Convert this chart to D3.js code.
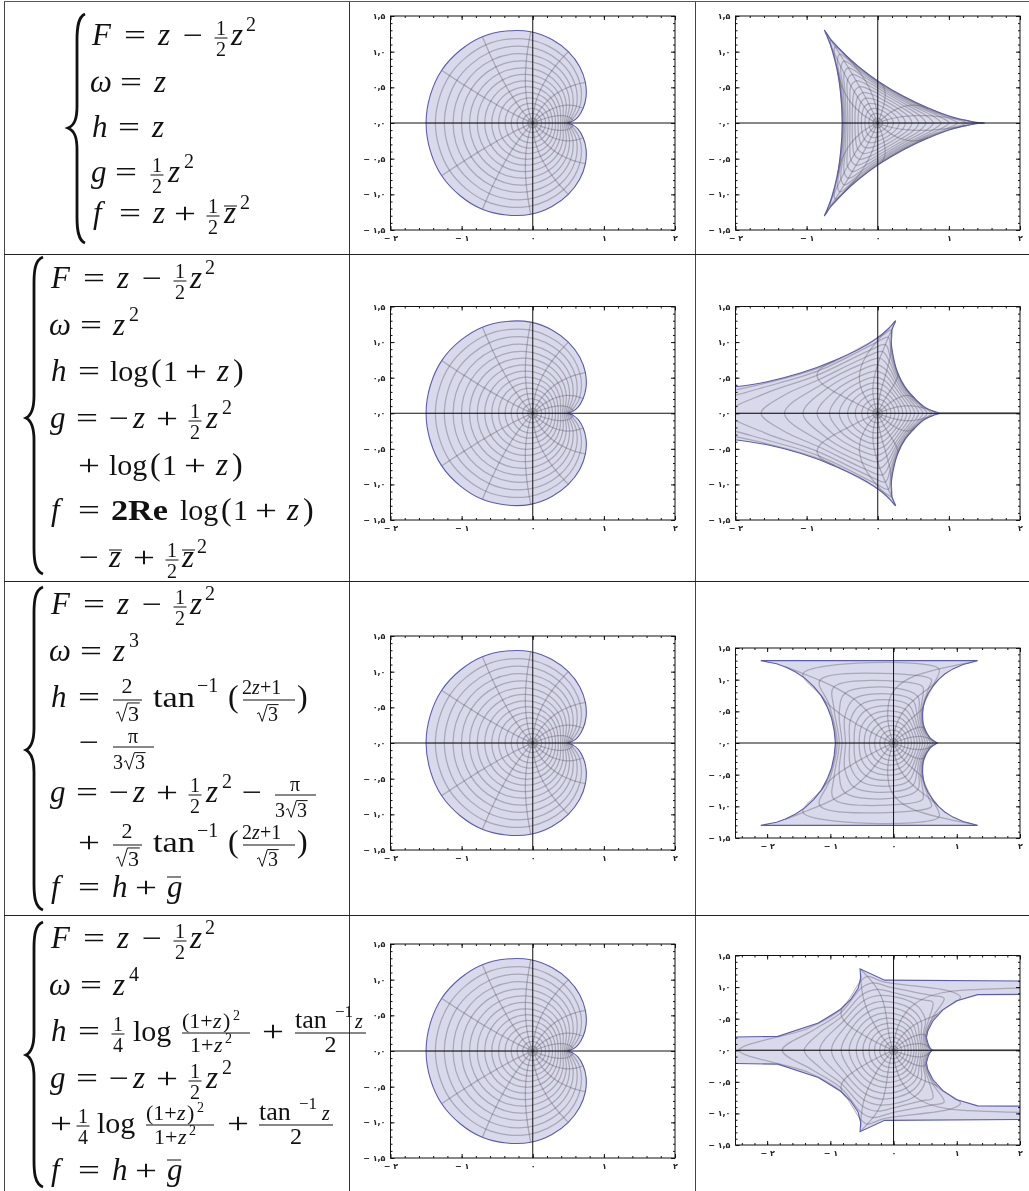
<!DOCTYPE html>
<html>
<head>
<meta charset="utf-8">
<script src="https://cdn.jsdelivr.net/npm/d3@7"></script>
<style>
  html, body { margin: 0; padding: 0; background: #fff; }
  svg { display: block; filter: blur(0.4px); }
  .m { font-family: "Liberation Serif", serif; fill: #111; }
  .i { font-style: italic; }
  .b { font-weight: bold; }
  .tick text { font-family: "DejaVu Sans", sans-serif; font-size: 8px; font-weight: bold; fill: #222; }
  .tick line { stroke: #111; }
</style>
</head>
<body>
<script>
// tick labels
const xMajor = [-2, -1, 0, 1, 2];
const xLabels = ["− ۲", "− ۱", "۰", "۱", "۲"];
const yMajor = [-1.5, -1, -0.5, 0, 0.5, 1, 1.5];
const yLabels = ["− ۱,۵", "− ۱,۰", "− ۰,۵", "۰,۰", "۰,۵", "۱,۰", "۱,۵"];

// grid heights, upper half, outer contour first, 9 spoke positions per contour
const meshY = [
  [0,.029,.207,.57,1,1.278,1.207,.737,0],
  [0,.049,.224,.554,.933,1.17,1.096,.665,0],
  [0,.066,.237,.535,.867,1.067,.989,.598,0],
  [0,.08,.246,.513,.8,.965,.886,.532,0],
  [0,.091,.249,.487,.733,.867,.787,.471,0],
  [0,.098,.25,.459,.667,.773,.694,.412,0],
  [0,.103,.244,.427,.6,.681,.604,.357,0],
  [0,.104,.235,.392,.533,.592,.519,.304,0],
  [0,.102,.221,.354,.467,.508,.439,.256,0],
  [0,.096,.203,.313,.4,.427,.363,.21,0],
  [0,.088,.18,.268,.333,.348,.292,.168,0],
  [0,.077,.153,.221,.267,.271,.225,.127,0],
  [0,.063,.121,.171,.2,.199,.161,.091,0],
  [0,.045,.085,.117,.133,.129,.103,.057,0],
  [0,.025,.045,.061,.067,.063,.049,.027,0]
];

const xCardioid = [
  [.5,.57,.707,.737,.5,-.029,-.707,-1.278,-1.5],
  [.497,.554,.66,.665,.436,-.049,-.66,-1.17,-1.369],
  [.491,.535,.613,.598,.376,-.066,-.613,-1.067,-1.243],
  [.48,.513,.566,.532,.32,-.08,-.566,-.965,-1.12],
  [.464,.487,.518,.471,.269,-.091,-.518,-.867,-1.002],
  [.445,.459,.472,.412,.222,-.098,-.472,-.773,-.889],
  [.42,.427,.424,.357,.18,-.103,-.424,-.681,-.78],
  [.391,.392,.377,.304,.142,-.104,-.377,-.592,-.675],
  [.358,.354,.33,.256,.109,-.102,-.33,-.508,-.576],
  [.32,.313,.283,.21,.08,-.096,-.283,-.427,-.48],
  [.277,.268,.236,.168,.056,-.088,-.236,-.348,-.389],
  [.231,.221,.189,.127,.036,-.077,-.189,-.271,-.303],
  [.18,.171,.141,.091,.02,-.063,-.141,-.199,-.22],
  [.124,.117,.094,.057,.009,-.045,-.094,-.129,-.142],
  [.065,.061,.047,.027,.002,-.025,-.047,-.063,-.069]
];

const xDeltoid = [
  [1.5,1.278,.707,.029,-.5,-.737,-.707,-.57,-.5],
  [1.369,1.17,.66,.049,-.436,-.665,-.66,-.554,-.497],
  [1.243,1.067,.613,.066,-.376,-.598,-.613,-.535,-.491],
  [1.12,.965,.566,.08,-.32,-.532,-.566,-.513,-.48],
  [1.002,.867,.518,.091,-.269,-.471,-.518,-.487,-.464],
  [.889,.773,.472,.098,-.222,-.412,-.472,-.459,-.445],
  [.78,.681,.424,.103,-.18,-.357,-.424,-.427,-.42],
  [.675,.592,.377,.104,-.142,-.304,-.377,-.392,-.391],
  [.576,.508,.33,.102,-.109,-.256,-.33,-.354,-.358],
  [.48,.427,.283,.096,-.08,-.21,-.283,-.313,-.32],
  [.389,.348,.236,.088,-.056,-.168,-.236,-.268,-.277],
  [.303,.271,.189,.077,-.036,-.127,-.189,-.221,-.231],
  [.22,.199,.141,.063,-.02,-.091,-.141,-.171,-.18],
  [.142,.129,.094,.045,-.009,-.057,-.094,-.117,-.124],
  [.069,.063,.047,.025,-.002,-.027,-.047,-.061,-.065]
];

const xLog = [
  [.886,.778,.521,.28,.193,.239,.173,-.606,-4],
  [.821,.726,.5,.285,.19,.194,.064,-.754,-4.15],
  [.757,.675,.478,.284,.184,.149,-.029,-.83,-2.78],
  [.696,.624,.453,.28,.175,.107,-.109,-.855,-2.1],
  [.636,.575,.428,.271,.161,.067,-.173,-.831,-1.64],
  [.576,.525,.398,.258,.145,.029,-.219,-.778,-1.31],
  [.52,.477,.368,.242,.127,-.002,-.245,-.701,-1.05],
  [.464,.427,.335,.222,.108,-.028,-.258,-.615,-.853],
  [.408,.378,.3,.198,.088,-.048,-.253,-.525,-.679],
  [.353,.328,.263,.173,.068,-.062,-.238,-.438,-.542],
  [.298,.278,.223,.144,.049,-.068,-.21,-.355,-.423],
  [.241,.226,.181,.116,.033,-.066,-.176,-.277,-.317],
  [.185,.173,.139,.085,.019,-.057,-.137,-.201,-.226],
  [.127,.117,.094,.056,.009,-.043,-.093,-.13,-.144],
  [.066,.061,.047,.026,.002,-.025,-.047,-.062,-.068]
];

const xAtan = [
  [.709,.639,.502,.472,.709,1.238,-1.711,-1.14,-.918],
  [.666,.606,.492,.465,.637,.716,-1.431,-1.085,-.913],
  [.623,.574,.477,.45,.556,.357,-1.166,-1.016,-.891],
  [.582,.541,.46,.43,.47,.153,-.943,-.941,-.859],
  [.542,.507,.439,.402,.386,.039,-.767,-.86,-.816],
  [.498,.472,.412,.369,.309,-.029,-.628,-.772,-.76],
  [.459,.435,.382,.33,.239,-.067,-.521,-.684,-.695],
  [.417,.398,.35,.291,.181,-.083,-.433,-.596,-.623],
  [.374,.357,.313,.247,.134,-.091,-.36,-.509,-.544],
  [.329,.314,.273,.206,.093,-.093,-.299,-.425,-.463],
  [.283,.268,.23,.168,.062,-.088,-.242,-.348,-.383],
  [.233,.221,.186,.127,.038,-.077,-.191,-.271,-.3],
  [.18,.171,.14,.091,.021,-.063,-.142,-.199,-.219],
  [.124,.117,.094,.057,.009,-.045,-.094,-.129,-.142],
  [.065,.061,.047,.027,.002,-.025,-.047,-.063,-.069]
];

const xMixed = [
  [.632,.582,.519,.69,3,-.517,-.518,-.756,-3],
  [.6,.559,.516,.667,.894,-.415,-.517,-.815,-2.44],
  [.567,.537,.506,.622,.599,-.326,-.505,-.831,-1.761],
  [.535,.512,.489,.565,.438,-.255,-.489,-.821,-1.413],
  [.504,.486,.468,.502,.333,-.203,-.467,-.783,-1.169],
  [.47,.455,.437,.436,.255,-.167,-.437,-.727,-.982],
  [.436,.426,.405,.374,.197,-.142,-.404,-.658,-.83],
  [.401,.39,.364,.315,.15,-.124,-.365,-.581,-.704],
  [.36,.351,.32,.265,.109,-.11,-.32,-.505,-.59],
  [.323,.311,.28,.214,.08,-.1,-.28,-.425,-.485],
  [.277,.268,.236,.168,.056,-.088,-.236,-.348,-.389],
  [.231,.221,.189,.127,.036,-.077,-.189,-.271,-.303],
  [.18,.171,.141,.091,.02,-.063,-.141,-.199,-.22],
  [.124,.117,.094,.057,.009,-.045,-.094,-.129,-.142],
  [.065,.061,.047,.027,.002,-.025,-.047,-.063,-.069]
];

// extra corner points seen on some contours: [contour, after position, x, y]
const cornersLog = [[1,7,-1.9,.35],[2,7,-1.78,.313],[3,7,-1.58,.279],[4,7,-1.33,.246]];
const cornersAtan = [[2,4,.6,1],[3,4,.46,.89]];
const cornersMixed = [[1,7,-1.35,.349],[2,7,-1.28,.313],[3,7,-1.16,.279],[1,3,1.06,.84],[2,3,.8,.82],[3,3,.62,.76],[1,4,-.156,1.082],[2,4,-.04,.994],[3,4,.015,.908]];

// outer edges, upper half only
const edgeCardioid = [[.5,0],[.57,.03],[.64,.09],[.71,.21],[.75,.37],[.74,.57],[.66,.79],[.5,1],[.27,1.17],[-.03,1.28],[-.37,1.29],[-.71,1.21],[-1.02,1.02],[-1.28,.74],[-1.44,.39],[-1.5,0]];
const edgeDeltoid = [[1.5,0],[1.44,.004],[1.28,.03],[1.02,.09],[.71,.21],[.37,.37],[.03,.57],[-.27,.79],[-.5,1],[-.66,1.17],[-.75,1.3],[-.71,1.21],[-.64,1.02],[-.57,.74],[-.52,.39],[-.5,0]];
const edgeLog = [[.87,0],[.78,.03],[.65,.09],[.52,.21],[.38,.37],[.28,.57],[.22,.79],[.19,1],[.2,1.17],[.25,1.3],[.17,1.21],[-.06,1.02],[-.61,.74],[-1.57,.44],[-2.1,.36],[-3,.3],[-3,0]];
const edgeAtan = [[.69,0],[.66,.02],[.61,.05],[.57,.09],[.53,.15],[.5,.21],[.47,.29],[.46,.37],[.46,.47],[.47,.57],[.5,.68],[.55,.79],[.62,.89],[.71,1],[.81,1.09],[.94,1.17],[1.1,1.24],[1.33,1.3],[.3,1.3],[-2.1,1.3],[-1.85,1.25],[-1.71,1.2],[-1.55,1.12],[-1.4,1.02],[-1.26,.89],[-1.14,.74],[-1.05,.57],[-.98,.39],[-.94,.2],[-.92,0]];
const edgeMixed = [[.62,0],[.58,.03],[.55,.09],[.52,.2],[.54,.3],[.62,.46],[.78,.64],[.99,.78],[1.33,.88],[3,.89],[3,1.09],[-.14,1.11],[-.53,1.29],[-.52,1.15],[-.56,.98],[-.68,.8],[-.85,.64],[-1.19,.43],[-1.83,.22],[-2.5,.21],[-3,.21],[-3,0]];

const shapes = {
  cardioid: { xs: xCardioid, edge: edgeCardioid, corners: [], xMin: -2 },
  deltoid: { xs: xDeltoid, edge: edgeDeltoid, corners: [], xMin: -2 },
  log: { xs: xLog, edge: edgeLog, corners: cornersLog, xMin: -2, tail: [[.87, 0], [2, 0]] },
  atan: { xs: xAtan, edge: edgeAtan, corners: cornersAtan, xMin: -2.5, straight: true },
  mixed: { xs: xMixed, edge: edgeMixed, corners: cornersMixed, xMin: -2.5, straight: true, tail: [[.62, 0], [2, 0]] }
};

// plot frames on the page
const panels = [
  { shape: "cardioid", left: 390.5, right: 675, top: 16, bottom: 230 },
  { shape: "deltoid", left: 735.5, right: 1020, top: 16, bottom: 230 },
  { shape: "cardioid", left: 390.5, right: 675, top: 306.5, bottom: 520 },
  { shape: "log", left: 735.5, right: 1020, top: 306.5, bottom: 520 },
  { shape: "cardioid", left: 390.5, right: 675, top: 636, bottom: 850 },
  { shape: "atan", left: 735.5, right: 1020, top: 648, bottom: 838 },
  { shape: "cardioid", left: 390.5, right: 675, top: 944, bottom: 1158 },
  { shape: "mixed", left: 735.5, right: 1020, top: 955.5, bottom: 1145 }
];

const svg = d3.select("body").append("svg").attr("width", 1029).attr("height", 1191);

// table rules
const rule = (x1, y1, x2, y2, c) => svg.append("line")
  .attr("x1", x1).attr("y1", y1).attr("x2", x2).attr("y2", y2)
  .attr("stroke", c).attr("stroke-width", 1);
rule(4.5, 1, 4.5, 1191, "#444");
rule(349.5, 1, 349.5, 1191, "#333");
rule(695.5, 1, 695.5, 1191, "#444");
rule(4, 1.5, 1029, 1.5, "#555");
rule(4, 254.5, 1029, 254.5, "#222");
rule(4, 581.5, 1029, 581.5, "#222");
rule(4, 915.5, 1029, 915.5, "#222");

const gridStroke = sel => sel.attr("fill", "none").attr("stroke", "#50505a")
  .attr("stroke-opacity", 0.36).attr("stroke-width", 1.25);

function drawPanel(p, idx) {
  const s = shapes[p.shape];
  const x = d3.scaleLinear().domain([s.xMin, 2]).range([p.left, p.right]);
  const y = d3.scaleLinear().domain([-1.5, 1.5]).range([p.bottom, p.top]);
  const g = svg.append("g");

  g.append("clipPath").attr("id", "clip" + idx).append("rect")
    .attr("x", p.left).attr("y", p.top)
    .attr("width", p.right - p.left).attr("height", p.bottom - p.top);
  const body = g.append("g").attr("clip-path", `url(#clip${idx})`);

  const flip = pts => pts.map(d => [d[0], -d[1]]);
  const mirrored = upper => upper.concat(flip(upper).reverse().slice(1, -1));

  // filled region and its outline
  const outline = mirrored(s.edge);
  const outlinePath = d3.line().x(d => x(d[0])).y(d => y(d[1]))
    .curve(s.straight ? d3.curveLinearClosed : d3.curveCatmullRomClosed.alpha(1));
  body.append("path").attr("d", outlinePath(outline)).attr("fill", "#d9d9ec");

  // contours
  const closed = d3.line().x(d => x(d[0])).y(d => y(d[1])).curve(d3.curveCatmullRomClosed.alpha(0.5));
  s.xs.slice(1).forEach((row, i) => {
    const upper = [];
    row.forEach((v, j) => {
      upper.push([v, meshY[i + 1][j]]);
      s.corners.filter(c => c[0] === i + 1 && c[1] === j).forEach(c => upper.push([c[2], c[3]]));
    });
    body.append("path").attr("d", closed(mirrored(upper))).call(gridStroke);
  });

  // spokes, from the outer contour in to the centre
  const spokeLine = d3.line().x(d => x(d[0])).y(d => y(d[1])).curve(d3.curveCatmullRom.alpha(0.5));
  d3.range(9).forEach(j => {
    const spoke = s.xs.map((row, i) => [row[j], meshY[i][j]]).concat([[0, 0]]);
    body.append("path").attr("d", spokeLine(spoke)).call(gridStroke);
    if (j > 0 && j < 8) body.append("path").attr("d", spokeLine(flip(spoke))).call(gridStroke);
  });

  if (s.tail) {
    body.append("path").attr("d", d3.line().x(d => x(d[0])).y(d => y(d[1]))(s.tail))
      .attr("fill", "none").attr("stroke", "#999").attr("stroke-width", 2.2);
  }

  body.append("path").attr("d", outlinePath(outline))
    .attr("fill", "none").attr("stroke", "#5c5cae").attr("stroke-width", 1.1);

  // axis lines through the origin
  g.append("line").attr("x1", x(0)).attr("x2", x(0)).attr("y1", p.top).attr("y2", p.bottom)
    .attr("stroke", "#111").attr("stroke-width", 1);
  g.append("line").attr("x1", p.left).attr("x2", p.right).attr("y1", y(0)).attr("y2", y(0))
    .attr("stroke", "#111").attr("stroke-width", 1);

  // ticks on all four sides, pointing in
  const xMinor = d3.range(s.xMin === -2 ? -1.8 : -2.4, 2, 0.2);
  const yMinor = d3.range(-1.4, 1.5, 0.1);
  const addAxis = (maker, scale, tx, ty, major, minor, fmt) => {
    const a = g.append("g").attr("transform", `translate(${tx},${ty})`);
    a.call(maker(scale).tickValues(minor).tickSizeInner(-2).tickSizeOuter(0).tickFormat(""));
    const b = g.append("g").attr("transform", `translate(${tx},${ty})`);
    b.call(maker(scale).tickValues(major).tickSizeInner(-4).tickSizeOuter(0).tickPadding(5).tickFormat(fmt));
    a.select(".domain").remove();
    b.select(".domain").remove();
  };
  const xFmt = d => xLabels[xMajor.indexOf(d)];
  const yFmt = d => yLabels[yMajor.indexOf(d)];
  addAxis(d3.axisBottom, x, 0, p.bottom, xMajor, xMinor, xFmt);
  addAxis(d3.axisTop, x, 0, p.top, xMajor, xMinor, "");
  addAxis(d3.axisLeft, y, p.left, 0, yMajor, yMinor, yFmt);
  addAxis(d3.axisRight, y, p.right, 0, yMajor, yMinor, "");

  g.append("rect").attr("x", p.left).attr("y", p.top)
    .attr("width", p.right - p.left).attr("height", p.bottom - p.top)
    .attr("fill", "none").attr("stroke", "#111").attr("stroke-width", 1);
}
panels.forEach(drawPanel);

// --- typeset column ---
const math = svg.append("g");
const put = (x, y, s, size, cls, anchor) => math.append("text").attr("class", "m " + (cls || ""))
  .attr("x", x).attr("y", y).attr("font-size", size || 30).attr("text-anchor", anchor || "start").text(s);
const I = (x, y, s, size) => put(x, y, s, size || 31, "i");
const R = (x, y, s, size) => put(x, y, s, size, "");
const Op = (x, y, s, w) => put(x, y, s, 30, "").attr("textLength", w || 22).attr("lengthAdjust", "spacingAndGlyphs");
const bar = (x1, x2, y) => math.append("line").attr("x1", x1).attr("x2", x2).attr("y1", y).attr("y2", y)
  .attr("stroke", "#111").attr("stroke-width", 1);
const half = (cx, base, n) => {
  put(cx, base - 10, "1", 20, "", "middle");
  bar(cx - 6.5, cx + 6.5, base - 7);
  put(cx, base + 11, n || "2", 20, "", "middle");
};
const sqrt3 = (x, base, size) => {
  math.append("path").attr("fill", "none").attr("stroke", "#111").attr("stroke-width", 1)
    .attr("d", `M${x},${base - .35 * size}L${x + .1 * size},${base - .42 * size}L${x + .26 * size},${base + .02 * size}L${x + .52 * size},${base - .82 * size}L${x + 1.08 * size},${base - .82 * size}`);
  R(x + .55 * size, base, "3", size);
};
const logParen = (x, base) => {
  R(x, base, "log");
  R(x + 41, base, "(", 32);
  R(x + 53, base, "1");
  Op(x + 75, base, "+");
  I(x + 107, base, "z");
  R(x + 123, base, ")", 32);
};
const tanFrac = (x, base) => {
  // 2/sqrt3 tan^-1((2z+1)/sqrt3)
  put(x + 14, base - 14, "2", 22, "", "middle");
  bar(x, x + 29, base - 7);
  sqrt3(x + 3, base + 14, 22);
  R(x + 40, base, "tan").attr("textLength", 42).attr("lengthAdjust", "spacingAndGlyphs");
  R(x + 84, base - 15, "−1", 20);
  R(x + 115, base, "(", 32);
  R(x + 129, base - 13, "2", 20);
  I(x + 139, base - 13, "z", 20);
  R(x + 147, base - 13, "+1", 20);
  bar(x + 130, x + 182, base - 7);
  sqrt3(x + 144, base + 14, 20);
  R(x + 184, base, ")", 32);
};
const brace = (tip, stem, end, top, mid, bottom) => {
  const p = d3.path();
  p.moveTo(end, top);
  p.bezierCurveTo(stem + 1, top + 3, stem, top + 14, stem, top + 26);
  p.lineTo(stem, mid - 22);
  p.bezierCurveTo(stem, mid - 10, stem - 2, mid - 3, tip, mid);
  p.bezierCurveTo(stem - 2, mid + 3, stem, mid + 10, stem, mid + 22);
  p.lineTo(stem, bottom - 26);
  p.bezierCurveTo(stem, bottom - 14, stem + 1, bottom - 3, end, bottom);
  math.append("path").attr("d", p.toString()).attr("fill", "none").attr("stroke", "#111").attr("stroke-width", 2.8);
};
const Fline = (x, base) => {
  I(x, base, "F");
  Op(x + 32, base, "=");
  I(x + 66, base, "z");
  Op(x + 91, base, "−", 20);
  half(x + 129, base);
  I(x + 139, base, "z");
  R(x + 154, base - 14, "2", 20);
};
const gLine = (base) => {
  I(50, base, "g");
  Op(76, base, "=");
  Op(109, base, "−", 20);
  I(133, base, "z");
  Op(156, base, "+");
  half(195, base);
  I(206, base, "z");
  R(222, base - 14, "2", 20);
};
const zbar = (x, base, w) => bar(x, x + (w || 13), base - 17);

// row 1
brace(68, 77, 85, 14, 128, 243);
Fline(92, 45);
I(90, 92, "ω"); Op(120, 92, "="); I(154, 92, "z");
I(92, 137, "h"); Op(118, 137, "="); I(152, 137, "z");
I(91, 182, "g"); Op(115, 182, "="); half(157, 182); I(168, 182, "z"); R(184, 168, "2", 20);
I(93, 223, "f"); Op(119, 223, "="); I(153, 223, "z"); Op(174, 223, "+"); half(213, 223); I(224, 223, "z"); zbar(224, 223); R(240, 209, "2", 20);

// row 2
brace(26, 34, 43, 257, 418, 574);
Fline(51, 288);
I(49, 335, "ω"); Op(80, 335, "="); I(113, 335, "z"); R(129, 321, "2", 20);
I(51, 381, "h"); Op(78, 381, "="); logParen(110, 381);
gLine(428);
Op(78, 475, "+"); logParen(109, 475);
I(51, 520, "f"); Op(78, 520, "=");
put(111, 520, "2Re", 30, "b").attr("textLength", 57).attr("lengthAdjust", "spacingAndGlyphs");
logParen(180, 520);
Op(79, 567, "−", 20); I(109, 567, "z"); zbar(109, 567); Op(133, 567, "+"); half(172, 567); I(182, 567, "z"); zbar(182, 567); R(197, 553, "2", 20);

// row 3
brace(26, 34, 43, 587, 750, 910);
Fline(51, 614);
I(49, 661, "ω"); Op(80, 661, "="); I(113, 661, "z"); R(129, 647, "3", 20);
I(51, 707, "h"); Op(78, 707, "="); tanFrac(113, 707);
Op(79, 752, "−", 20); put(133, 743, "π", 20, "", "middle"); bar(113, 154, 747); R(113, 769, "3", 20); sqrt3(124, 769, 20);
gLine(802);
Op(242, 802, "−", 20); put(295, 791, "π", 20, "", "middle"); bar(275, 316, 795); R(275, 817, "3", 20); sqrt3(286, 817, 20);
Op(78, 852, "+"); tanFrac(113, 852);
I(51, 897, "f"); Op(78, 897, "="); I(112, 897, "h"); Op(135, 897, "+"); I(167, 897, "g"); bar(167, 181, 877);

// row 4
brace(26, 34, 43, 922, 1055, 1187);
const powerFrac = (cx, base) => {
  R(cx - 34, base - 13, "(1+", 22);
  I(cx - 3, base - 13, "z", 22);
  R(cx + 7, base - 13, ")", 22);
  R(cx + 17, base - 21, "2", 14);
  bar(cx - 34, cx + 34, base - 8);
  R(cx - 26, base + 11, "1+", 22);
  I(cx - 2, base + 11, "z", 22);
  R(cx + 9, base + 2, "2", 14);
};
const atanFrac = (x, base, w) => {
  R(x, base - 13, "tan", 26);
  R(x + 40, base - 24, "−1", 17);
  I(x + w - 11, base - 13, "z", 20);
  bar(x, x + w, base - 8);
  put(x + w / 2, base + 11, "2", 24, "", "middle");
};
Fline(51, 948);
I(49, 995, "ω"); Op(80, 995, "="); I(113, 995, "z"); R(129, 981, "4", 20);
I(51, 1041, "h"); Op(78, 1041, "="); half(118, 1041, "4"); R(133, 1041, "log");
powerFrac(216, 1041); Op(262, 1041, "+"); atanFrac(295, 1041, 71);
gLine(1088);
Op(50, 1133, "+"); half(83, 1133, "4"); R(97, 1133, "log");
powerFrac(180, 1133); Op(227, 1133, "+"); atanFrac(259, 1133, 74);
I(51, 1180, "f"); Op(78, 1180, "="); I(112, 1180, "h"); Op(135, 1180, "+"); I(167, 1180, "g"); bar(167, 181, 1160);
</script>
</body>
</html>
